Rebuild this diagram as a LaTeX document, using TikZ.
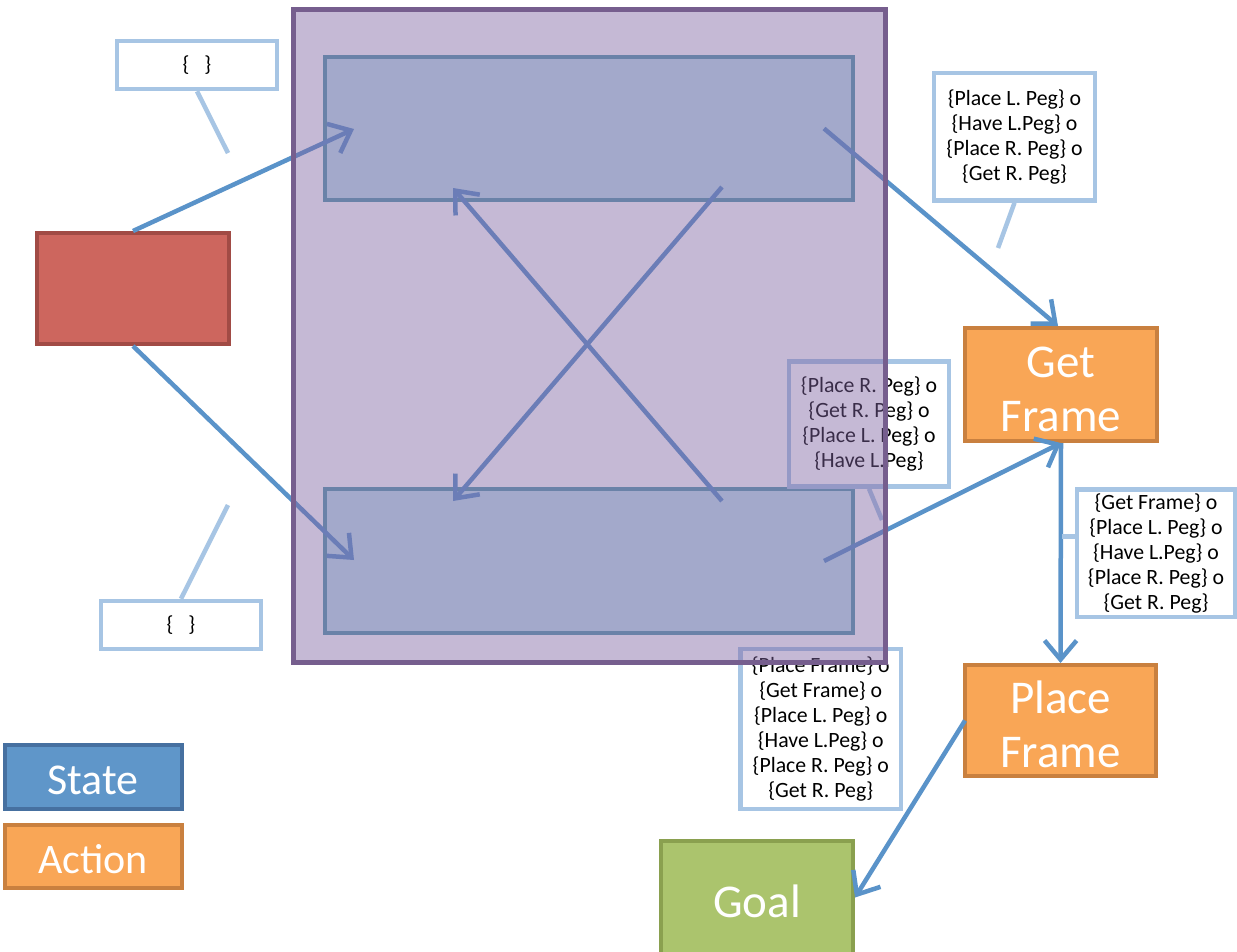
\documentclass[tikz,border=0pt]{standalone}
\usepackage{fontspec}
\setmainfont{Carlito}
\usetikzlibrary{arrows.meta,calc}

\definecolor{arrowblue}{HTML}{5A93C9}
\definecolor{calloutblue}{HTML}{A7C5E4}
\definecolor{redfill}{HTML}{CD665E}
\definecolor{redline}{HTML}{A14B45}
\definecolor{orangefill}{HTML}{F9A656}
\definecolor{orangeline}{HTML}{C9803F}
\definecolor{greenfill}{HTML}{ABC46D}
\definecolor{greenline}{HTML}{8AA04F}
\definecolor{statefill}{HTML}{5F96C9}
\definecolor{stateline}{HTML}{4670A0}
\definecolor{planfill}{HTML}{8064A2}
\definecolor{planline}{HTML}{765E8E}
\definecolor{innerfill}{HTML}{C0E3ED}
\definecolor{innerline}{HTML}{589BAD}

\tikzset{
  box/.style={draw, line width=4pt, inner sep=0pt, align=center, text=white,
    font=\fontsize{47}{54}\selectfont},
  legendbox/.style={box, font=\fontsize{44}{54}\selectfont},
  callout/.style={draw=calloutblue, fill=white, line width=4.5pt, inner sep=0pt,
    align=center, font=\fontsize{21.8}{25}\selectfont},
  tailline/.style={draw=calloutblue, line width=4.5pt},
  link/.style={draw=arrowblue, line width=4.5pt,
    -{Straight Barb[length=19pt,width=32pt]}},
}

\begin{document}
\begin{tikzpicture}[x=1pt,y=-1pt]
\useasboundingbox (0,0) rectangle (1237,951);
\clip (0,0) rectangle (1237,951);
\fill[white] (0,0) rectangle (1237,951);

% state boxes inside the plan
\node[box, draw=innerline, fill=innerfill, minimum width=528pt, minimum height=143pt] (upper) at (589,128.5) {};
\node[box, draw=innerline, fill=innerfill, minimum width=528pt, minimum height=144pt] (lower) at (589,561) {};

% start state
\node[box, draw=redline, fill=redfill, minimum width=192pt, minimum height=111pt] (start) at (133,288.5) {};

% actions and goal
\node[box, draw=orangeline, fill=orangefill, minimum width=192pt, minimum height=113pt] (getf) at (1061,384.5) {};
\node[text=white, align=center, font=\fontsize{47}{54}\selectfont] (getftext) at (1061,389) {Get\\Frame};
\node[box, draw=orangeline, fill=orangefill, minimum width=191pt, minimum height=111pt] (placef) at (1060.5,720.5) {};
\node[text=white, align=center, font=\fontsize{47}{54}\selectfont] (placeftext) at (1060.5,724) {Place\\Frame};
\node[box, draw=greenline, fill=greenfill, minimum width=192pt, minimum height=113pt] (goal) at (757,897.5) {};
\node[text=white, font=\fontsize{47}{54}\selectfont] (goaltext) at (757,901) {Goal};

% legend
\node[legendbox, draw=stateline, fill=statefill, minimum width=177pt, minimum height=64pt] (legstate) at (93,777) {};
\node[text=white, font=\fontsize{44}{54}\selectfont] (legstatetext) at (93,780) {State};
\node[legendbox, draw=orangeline, fill=orangefill, minimum width=177pt, minimum height=63.5pt] (legaction) at (93,856.7) {};
\node[text=white, font=\fontsize{42}{54}\selectfont] (legactiontext) at (93,859.5) {Action};

% transitions
\draw[link] (start.north) -- ($(upper.west)+(31,0.5)$);
\draw[link] (start.south) -- ($(lower.west)+(31,-1)$);
\draw[link] ($(upper.south west)+(399,-15)$) -- ($(lower.north west)+(130,14)$);
\draw[link] ($(lower.north west)+(399,14)$) -- ($(upper.south west)+(130,-14)$);
\draw[link] ($(upper.east)+(-31,0)$) -- ($(getf.north)+(-3,0)$);
\draw[link] ($(lower.east)+(-31,0)$) -- (getf.south);
\draw[link] (getf.south) -- (placef.north);
\draw[link] ($(placef.west)+(2,0)$) -- (goal.east);

% callouts
\node[callout, minimum width=160pt, minimum height=48pt] (tlc) at (197,65) {\{\hspace{15pt}\}};
\node[callout, minimum width=160pt, minimum height=48pt] (blc) at (181,625) {\{\hspace{15pt}\}};
\node[callout, minimum width=161pt, minimum height=127.5pt] (trc) at (1014.5,136.75)
  {\{Place L. Peg\} o\\\{Have L.Peg\} o\\\{Place R. Peg\} o\\\{Get R. Peg\}};
\node[callout, minimum width=160pt, minimum height=125pt] (midc) at (869,424)
  {\{Place R. Peg\} o\\\{Get R. Peg\} o\\\{Place L. Peg\} o\\\{Have L.Peg\}};
\node[callout, minimum width=158pt, minimum height=127.5pt] (rc) at (1156,553)
  {\{Get Frame\} o\\\{Place L. Peg\} o\\\{Have L.Peg\} o\\\{Place R. Peg\} o\\\{Get R. Peg\}};
\node[callout, minimum width=160.5pt, minimum height=160pt] (bc) at (820.75,729)
  {\{Place Frame\} o\\\{Get Frame\} o\\\{Place L. Peg\} o\\\{Have L.Peg\} o\\\{Place R. Peg\} o\\\{Get R. Peg\}};

% callout pointers
\coordinate (tlpt) at (228,153);
\coordinate (blpt) at (228,505);
\coordinate (trpt) at (998,248);
\coordinate (midpt) at (882,520);
\coordinate (rpt) at (1062,536.7);
\draw[tailline] (tlc.south) -- (tlpt);
\draw[tailline] (blc.north) -- (blpt);
\draw[tailline] (trc.south) -- (trpt);
\draw[tailline] (midc.south) -- (midpt);
\draw[tailline] ($(rc.west)+(0,-16.3)$) -- (rpt);

% translucent plan frame on top
\node[draw=planline, fill=planfill, fill opacity=0.45, line width=5pt, inner sep=0pt,
  minimum width=592pt, minimum height=653pt] (plan) at (589,335.5) {};
\end{tikzpicture}
\end{document}
